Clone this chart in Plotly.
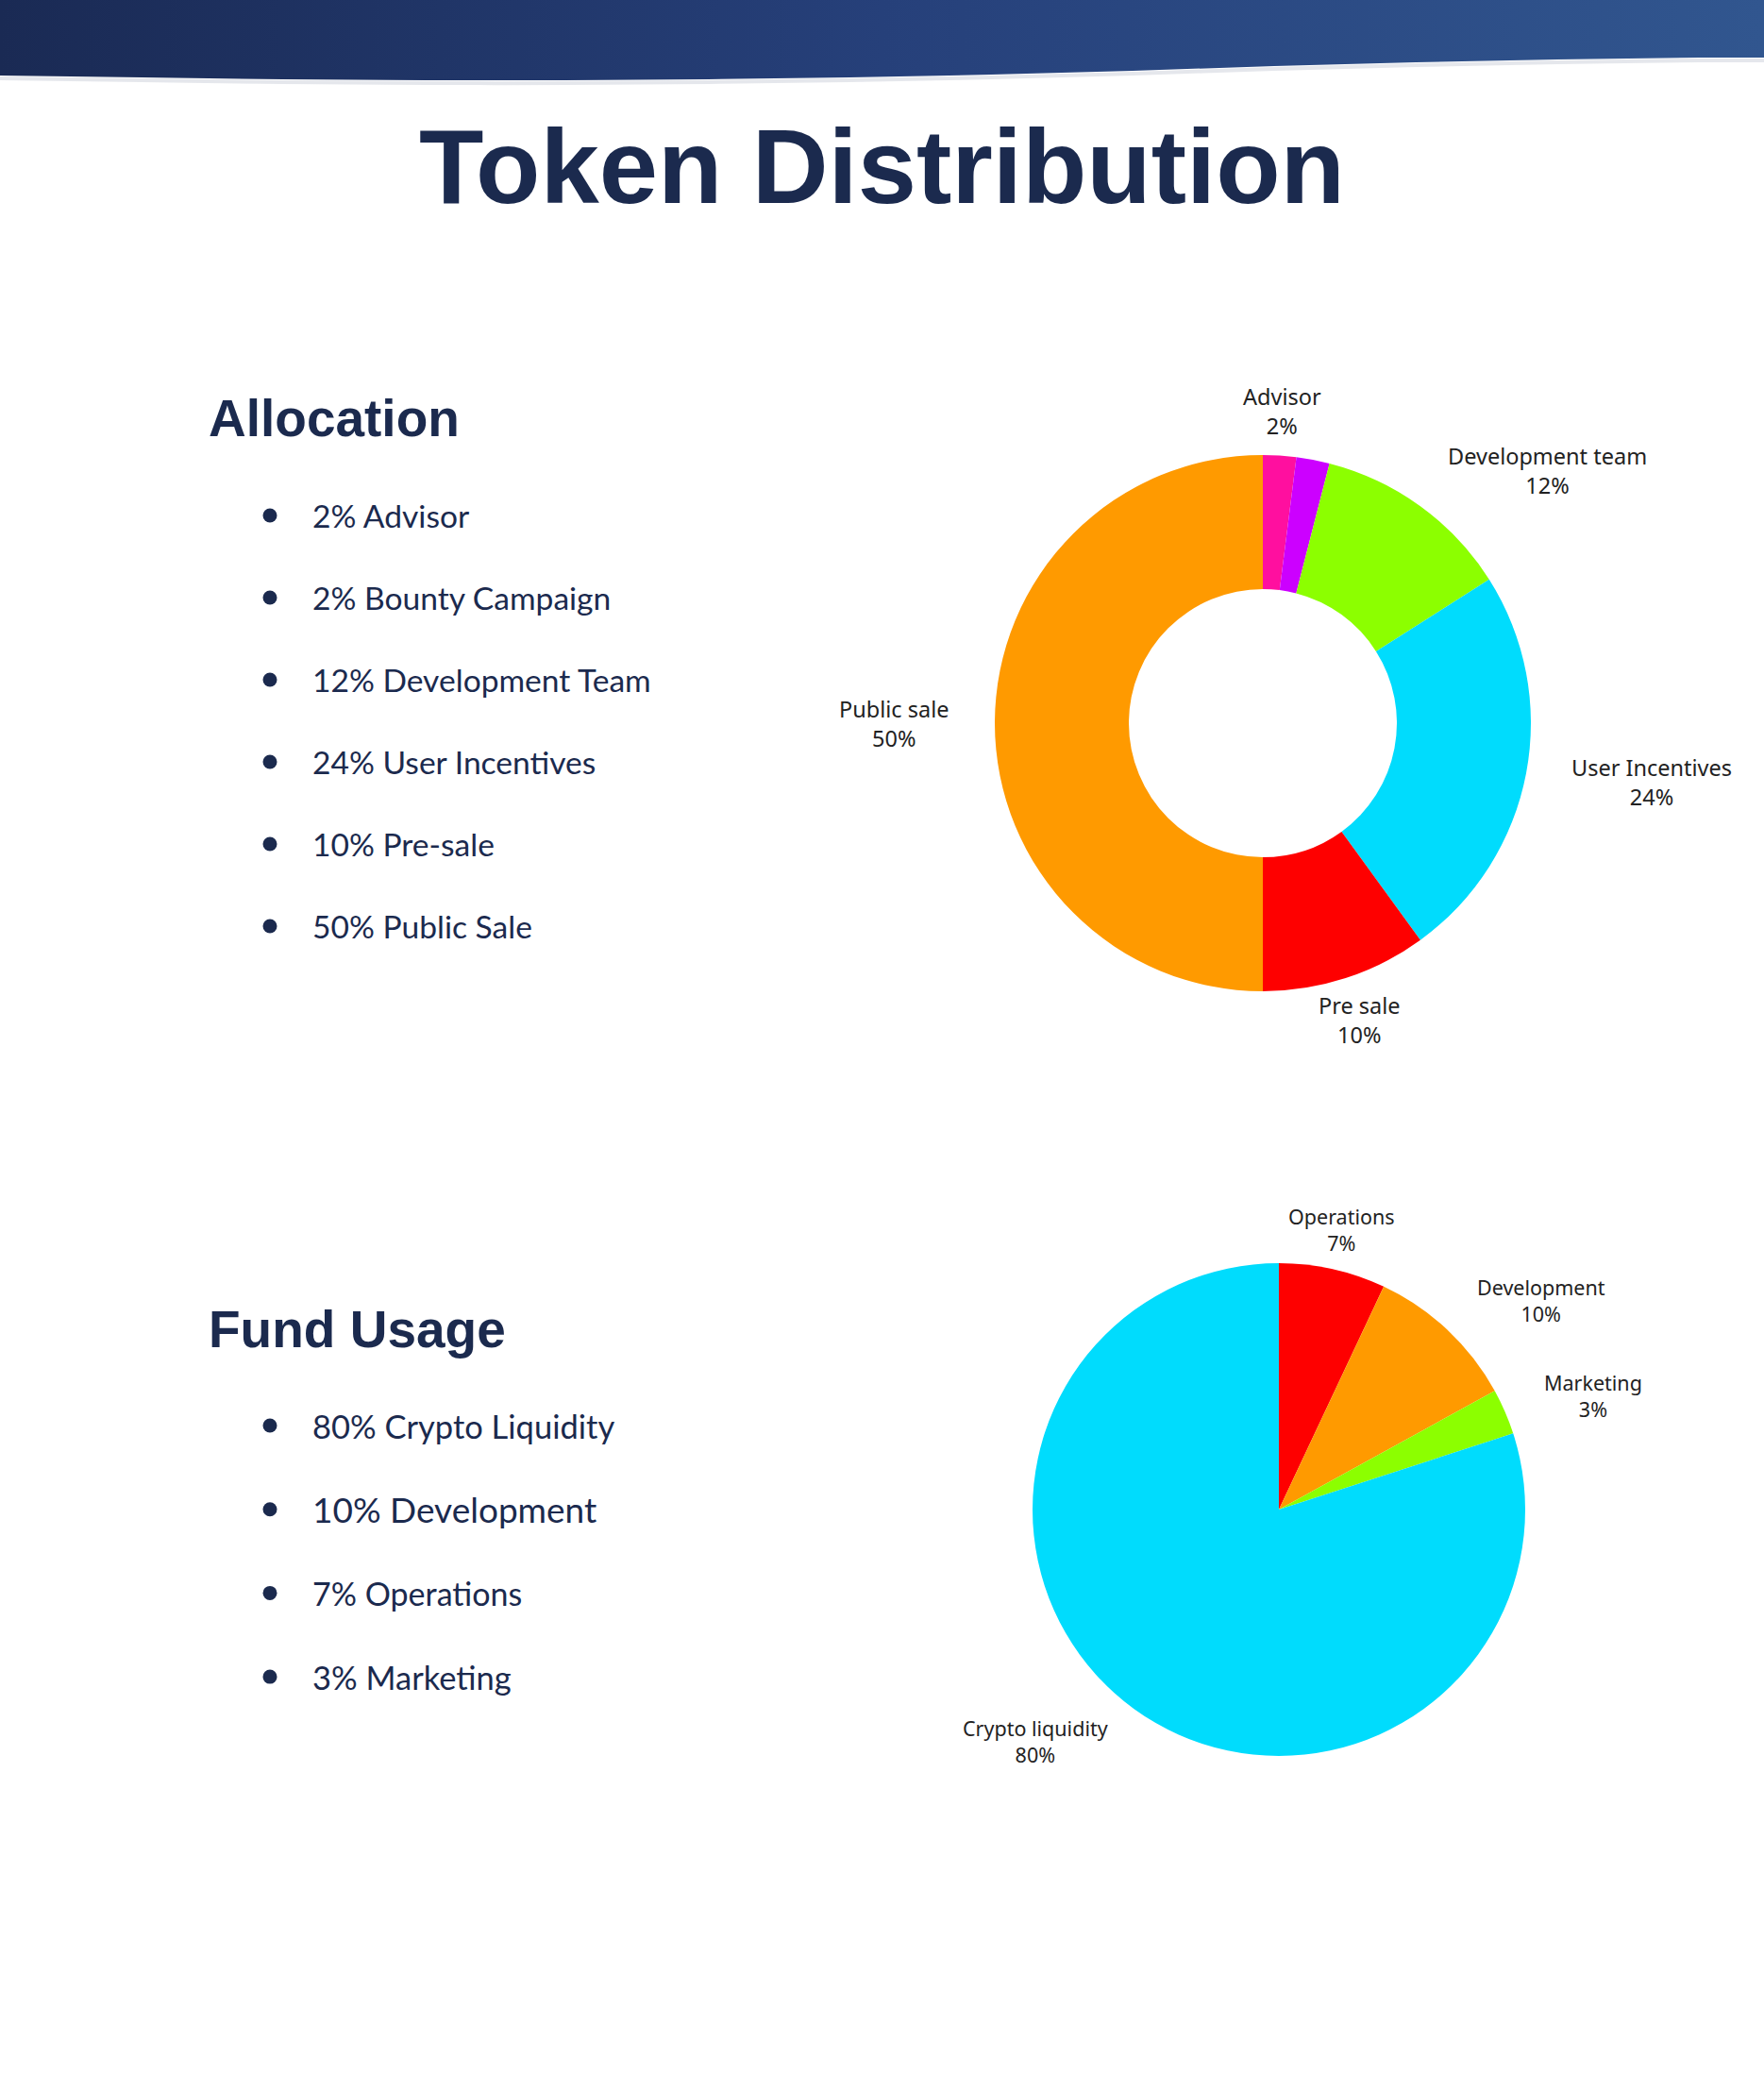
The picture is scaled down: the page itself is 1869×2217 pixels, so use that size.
import math
import plotly.graph_objects as go

W, H = 1869, 2217

# ---------------- data ----------------
alloc_labels = ["Advisor", "Bounty Campaign", "Development team", "User Incentives", "Pre sale", "Public sale"]
alloc_values = [2, 2, 12, 24, 10, 50]
alloc_colors = ["#ff0f9f", "#cc00ff", "#8cff00", "#00dcfd", "#fe0000", "#ff9a00"]
alloc_show_label = [True, False, True, True, True, True]

fund_labels = ["Operations", "Development", "Marketing", "Crypto liquidity"]
fund_values = [7, 10, 3, 80]
fund_colors = ["#fe0000", "#ff9a00", "#8cff00", "#00dcfd"]

alloc_list = ["2% Advisor", "2% Bounty Campaign", "12% Development Team",
              "24% User Incentives", "10% Pre-sale", "50% Public Sale"]
fund_list = ["80% Crypto Liquidity", "10% Development", "7% Operations", "3% Marketing"]

# ---------------- layout constants ----------------
NAVY = "#1b2a4e"
TEXT_DARK = "#222222"
DONUT_C, DONUT_R = (1338, 766), 284
PIE_C, PIE_R = (1355, 1599), 261
LABEL_FACTOR = 1.165

banner_curve_x = [0, 150, 300, 450, 600, 750, 900, 1050, 1200, 1350, 1500, 1650, 1800, 1869]
banner_curve_y = [80, 82, 84, 85, 85, 84, 82, 79, 75, 70, 66, 63, 61, 61]


def domain(c, r):
    cx, cy = c
    return dict(x=[(cx - r) / W, (cx + r) / W], y=[(H - cy - r) / H, (H - cy + r) / H])


def slice_annotations(labels, values, c, R, show, size):
    anns = []
    total = float(sum(values))
    cum = 0.0
    for lab, v, s in zip(labels, values, show):
        th = 2 * math.pi * (cum + v / 2.0) / total
        cum += v
        if not s:
            continue
        r = LABEL_FACTOR * R
        x = c[0] + r * math.sin(th)
        y = c[1] - r * math.cos(th)
        sx = math.sin(th)
        xa = "center" if abs(sx) < 0.45 else ("left" if sx > 0 else "right")
        anns.append(dict(x=x, y=y, xref="x", yref="y", text=f"{lab}<br>{v}%",
                         showarrow=False, xanchor=xa, yanchor="middle", align="center",
                         font=dict(family="Noto Sans", size=size, color=TEXT_DARK)))
    return anns


fig = go.Figure()

# banner with horizontal gradient
bx = [0] + banner_curve_x + [W, 0]
by = [0] + banner_curve_y + [0, 0]
fig.add_trace(go.Scatter(
    x=bx, y=by, mode="lines", line=dict(width=0), fill="toself",
    fillgradient=dict(type="horizontal", colorscale=[[0, "#1a2a54"], [0.5, "#26407a"], [1, "#31568f"]]),
    hoverinfo="skip", showlegend=False, xaxis="x", yaxis="y"))
# faint shadow under banner
fig.add_trace(go.Scatter(
    x=banner_curve_x, y=[v + 3 for v in banner_curve_y], mode="lines",
    line=dict(color="rgba(110,120,150,0.18)", width=4, shape="spline"),
    hoverinfo="skip", showlegend=False, xaxis="x", yaxis="y"))

# donut
fig.add_trace(go.Pie(
    labels=alloc_labels, values=alloc_values, hole=0.5, sort=False,
    direction="clockwise", rotation=0, textinfo="none",
    marker=dict(colors=alloc_colors, line=dict(width=0)),
    domain=domain(DONUT_C, DONUT_R), showlegend=False))

# pie
fig.add_trace(go.Pie(
    labels=fund_labels, values=fund_values, sort=False,
    direction="clockwise", rotation=0, textinfo="none",
    marker=dict(colors=fund_colors, line=dict(width=0)),
    domain=domain(PIE_C, PIE_R), showlegend=False))

annotations = []
annotations.append(dict(x=W / 2, y=176, xref="x", yref="y", text="Token Distribution",
                        showarrow=False, xanchor="center", yanchor="middle",
                        font=dict(family="Liberation Sans", size=112, color=NAVY, weight="bold")))
annotations.append(dict(x=219, y=443, xref="x", yref="y", text="Allocation",
                        showarrow=False, xanchor="left", yanchor="middle",
                        font=dict(family="Liberation Sans", size=55, color=NAVY, weight="bold")))
annotations.append(dict(x=219, y=1408, xref="x", yref="y", text="Fund Usage",
                        showarrow=False, xanchor="left", yanchor="middle",
                        font=dict(family="Liberation Sans", size=55, color=NAVY, weight="bold")))

shapes = []
BULLET_X, TEXT_X, BULLET_R = 286, 329, 7.5
alloc_y0, alloc_step = 546, 87
fund_y0, fund_step = 1510, 88.7
fund_sizes = [34.5, 37, 34, 34.5]
for i, t in enumerate(alloc_list):
    yy = alloc_y0 + i * alloc_step
    annotations.append(dict(x=TEXT_X, y=yy, xref="x", yref="y", text=t, showarrow=False,
                            xanchor="left", yanchor="middle",
                            font=dict(family="Lato", size=33.6, color=NAVY)))
    shapes.append(dict(type="circle", xref="x", yref="y", x0=BULLET_X - BULLET_R, x1=BULLET_X + BULLET_R,
                       y0=yy - BULLET_R, y1=yy + BULLET_R, fillcolor=NAVY, line=dict(width=0)))
for i, t in enumerate(fund_list):
    yy = fund_y0 + i * fund_step
    annotations.append(dict(x=TEXT_X, y=yy, xref="x", yref="y", text=t, showarrow=False,
                            xanchor="left", yanchor="middle",
                            font=dict(family="Lato", size=fund_sizes[i], color=NAVY)))
    shapes.append(dict(type="circle", xref="x", yref="y", x0=BULLET_X - BULLET_R, x1=BULLET_X + BULLET_R,
                       y0=yy - BULLET_R, y1=yy + BULLET_R, fillcolor=NAVY, line=dict(width=0)))

annotations += slice_annotations(alloc_labels, alloc_values, DONUT_C, DONUT_R, alloc_show_label, 23.5)
annotations += slice_annotations(fund_labels, fund_values, PIE_C, PIE_R, [True] * len(fund_labels), 21.5)

fig.update_layout(
    width=W, height=H, autosize=False,
    margin=dict(l=0, r=0, t=0, b=0, pad=0),
    paper_bgcolor="white", plot_bgcolor="white",
    xaxis=dict(range=[0, W], visible=False, domain=[0, 1], fixedrange=True),
    yaxis=dict(range=[H, 0], visible=False, domain=[0, 1], fixedrange=True),
    annotations=annotations, shapes=shapes, showlegend=False,
)

fig.write_html("out.html", config={"displayModeBar": False})
